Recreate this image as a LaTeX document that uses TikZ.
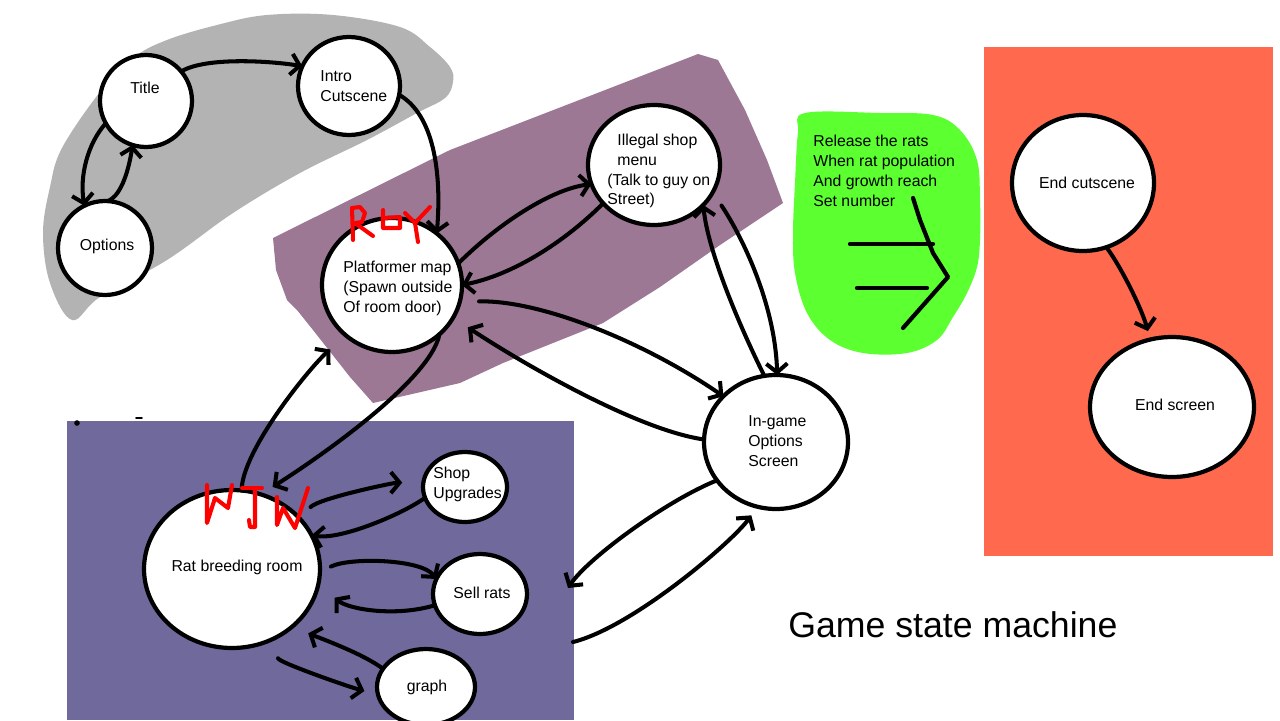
\documentclass[tikz,border=0pt]{standalone}
\usepackage{fontspec}
\setmainfont{Liberation Sans}
\usetikzlibrary{shapes.geometric,arrows.meta}
\definecolor{graybg}{HTML}{B3B3B3}
\definecolor{purpbg}{HTML}{9D7895}
\definecolor{bluebg}{HTML}{6F6A9B}
\definecolor{greenbg}{HTML}{5CFF2F}
\definecolor{redbg}{HTML}{FF6A4F}
\definecolor{scrawl}{HTML}{FF0000}
\begin{document}
\begin{tikzpicture}[x=0.02cm,y=-0.02cm,
 state/.style={ellipse,draw=black,line width=2.4pt,fill=white,inner sep=0pt,outer sep=0pt},
 lbl/.style={inner sep=0pt,font=\fontsize{9}{11.34}\selectfont,align=left},
 arr/.style={line width=2.3pt,line cap=round,line join=round,-{Straight Barb[length=5pt,width=12pt]}},
 scr/.style={draw=scrawl,line width=2.3pt,line cap=round,line join=round},
 pen/.style={line width=2.4pt,line cap=round,line join=round}]
\useasboundingbox (0,0) rectangle (1280,720);
\fill[white] (0,0) rectangle (1280,720);
% background regions
\fill[graybg] plot[smooth cycle,tension=0.6] coordinates {(72,320) (50,283) (43,233) (50,187) (62,148) (100,92) (133,58) (167,40) (217,25) (267,15) (333,15) (400,27) (430,47) (450,67) (453,82) (445,98) (417,113) (367,140) (300,173) (233,213) (167,260) (100,297)};
\fill[purpbg] (273,238) -- (450,150) -- (600,92) -- (698,54) -- (718,60) -- (745,110) -- (767,160) -- (783,203) -- (720,245) -- (660,287) -- (603,323) -- (503,363) -- (460,383) -- (373,403) -- (350,377) -- (313,330) -- (297,310) -- (287,300) -- (276,270) -- cycle;
\fill[bluebg] (67,421) rectangle (574,720);
\fill[greenbg] plot[smooth cycle,tension=0.6] coordinates {(805,113) (880,113) (933,115) (960,130) (977,160) (980,200) (980,240) (977,267) (967,293) (953,317) (937,340) (907,353) (863,353) (830,340) (807,313) (795,273) (793,233) (795,183) (798,133)};
\fill[redbg] (984,47) rectangle (1273,556);
% stray marks
\fill (77,423) circle[radius=1.6pt];
\draw[pen,line width=1pt] (136,418) -- (142,418);
% states
\node[state,minimum width=1.84cm,minimum height=1.84cm] (title) at (146,101) {};
\node[state,minimum width=2.04cm,minimum height=1.96cm] (intro) at (349,86) {};
\node[state,minimum width=1.88cm,minimum height=1.88cm] (options) at (105,248) {};
\node[state,minimum width=2.8cm,minimum height=2.68cm] (plat) at (392,285) {};
\node[state,minimum width=2.64cm,minimum height=2.4cm] (illegal) at (654,165) {};
\node[state,minimum width=2.88cm,minimum height=2.68cm] (ingame) at (776,442) {};
\node[state,minimum width=3.52cm,minimum height=3.16cm] (rat) at (232,569) {};
\node[state,minimum width=1.68cm,minimum height=1.4cm] (shop) at (465,487) {};
\node[state,minimum width=1.88cm,minimum height=1.6cm] (sell) at (480,594) {};
\node[state,minimum width=1.96cm,minimum height=1.52cm] (graph) at (426,687) {};
\node[state,minimum width=2.84cm,minimum height=2.72cm] (endc) at (1083,183) {};
\node[state,minimum width=3.28cm,minimum height=2.8cm] (ends) at (1172,407) {};
% labels
\node[lbl] (titleT) at (145,88) {Title};
\node[lbl,anchor=west] (introT) at (320,86) {Intro\\Cutscene};
\node[lbl] (optionsT) at (107,246) {Options};
\node[lbl,anchor=west] (platT) at (343,288) {Platformer map\\(Spawn outside\\Of room door)};
\node[lbl,anchor=west] (illegalT) at (607,171) {\hspace*{0.2cm}Illegal shop\\\hspace*{0.2cm}menu\\(Talk to guy on\\Street)};
\node[lbl,anchor=west] (ingameT) at (748,441) {In-game\\Options\\Screen};
\node[lbl] (ratT) at (237,567) {Rat breeding room};
\node[lbl,anchor=west] (shopT) at (433,484) {Shop\\Upgrades};
\node[lbl] (sellT) at (482,593) {Sell rats};
\node[lbl] (graphT) at (427,687) {graph};
\node[lbl] (endcT) at (1087,183) {End cutscene};
\node[lbl] (endsT) at (1175,405) {End screen};
\node[lbl,anchor=west] (releaseT) at (813,171) {Release the rats\\When rat population\\And growth reach\\Set number};
\node[inner sep=0pt,anchor=west,font=\fontsize{20.3}{24}\selectfont] (caption) at (788,625) {Game state machine};
% free ends
\coordinate (sellgap) at (568,588);
\coordinate (tailfree) at (573,642);
% connectors
\draw[arr] (title.40) .. controls +(25,-15) and +(-30,-5) .. (intro.157);
\draw[arr] (intro.350) .. controls +(35,20) and +(5,-60) .. (plat.49);
\draw[arr] (title.209) .. controls +(-18,20) and +(-5,-30) .. (options.116);
\draw[arr] (options.87) .. controls +(15,-5) and +(-3,20) .. (title.253);
\draw[arr] (plat.18) .. controls +(40,-40) and +(-40,5) .. (illegal.197);
\draw[arr] (illegal.217) .. controls +(-40,40) and +(50,-10) .. (plat.0);
\draw[arr,shorten <=11pt] (plat.346) .. controls +(80,-2) and +(-80,-55) .. (ingame.139);
\draw[arr,shorten >=10pt] (ingame.178) .. controls +(-70,-10) and +(60,40) .. (plat.332);
\draw[arr,shorten <=9pt] (illegal.335) .. controls +(30,45) and +(-2,-70) .. (ingame.89);
\draw[arr] (ingame.100) .. controls +(-20,-40) and +(5,50) .. (illegal.321);
\draw[arr,shorten >=8pt] (plat.314) .. controls +(-10,50) and +(40,-25) .. (rat.69);
\draw[arr,shorten >=12pt] (rat.83) .. controls +(0,-40) and +(-35,30) .. (plat.228);
\draw[arr,shorten <=9pt,shorten >=12pt] (rat.37) .. controls +(20,-20) and +(-30,0) .. (shop.174);
\draw[arr] (shop.195) .. controls +(-20,15) and +(30,5) .. (rat.23);
\draw[arr,shorten <=7pt] (rat.358) .. controls +(30,-15) and +(-15,-20) .. (sell.161);
\draw[arr,shorten >=12pt] (sell.194) .. controls +(-40,12) and +(30,25) .. (rat.350);
\draw[arr,shorten >=10pt] (graph.157) .. controls +(-20,-15) and +(30,12) .. (rat.316);
\draw[arr,shorten <=12pt,shorten >=8pt] (rat.303) .. controls +(2,25) and +(-30,-8) .. (graph.189);
\draw[arr] (ingame.213) .. controls +(-50,20) and +(20,-30) .. (sellgap);
\draw[arr,shorten >=6pt] (tailfree) .. controls +(60,-15) and +(-25,35) .. (ingame.254);
\draw[arr,shorten >=5pt] (endc.290) .. controls +(15,20) and +(-8,-30) .. (ends.108);
% green double arrow sketch
\draw[pen] (850,244) -- (933,244);
\draw[pen] (857,288) -- (927,288);
\draw[pen] (913,198) -- (920,220) -- (933,253) -- (948,277) -- (903,328);
% red scrawls ROY
\draw[scr] (352,208) -- (353,240);
\draw[scr] (352,208) -- (360,207) -- (365,213) -- (362,222) -- (355,223) -- (373,236);
\draw[scr] (383,210) -- (383,228) -- (400,228) -- (400,217) -- (383,218);
\draw[scr] (405,213) -- (415,223) -- (418,242);
\draw[scr] (415,223) -- (430,207);
% red scrawls WJW
\draw[scr] (207,485) -- (207,523) -- (215,498) -- (228,508) -- (232,485);
\draw[scr] (242,488) -- (262,488);
\draw[scr] (255,488) -- (255,527) -- (250,527) -- (249,520);
\draw[scr] (277,497) -- (277,525) -- (283,508) -- (295,528) -- (308,488);
\end{tikzpicture}
\end{document}
